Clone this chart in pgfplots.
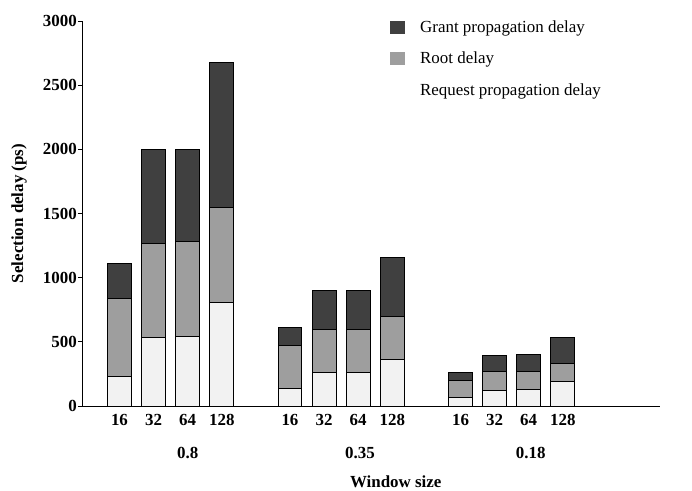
\documentclass[border=0pt]{standalone}
\usepackage{fontspec}
\setmainfont{Liberation Serif}
\usepackage{pgfplots}
\pgfplotsset{compat=1.18}
\usepackage{pgfplotstable}

\pgfplotstableread{
x req root grant
0 230 610 270
1 530 740 730
2 540 740 720
3 810 740 1130
5 140 330 140
6 260 340 300
7 260 340 300
8 360 340 460
10 70 130 60
11 120 150 120
12 130 140 130
13 190 140 200
}\datatable

\newcommand{\bigfont}{\fontsize{17}{20}\selectfont}
\pgfplotsset{
  sqlegend/.style={legend image code/.code={\path[##1, draw=none] (0bp,-6.5bp) rectangle (15bp,6.5bp);
      \path[draw=none, fill=none] (0bp,0bp) -- (28bp,0bp);}},
  nolegendimg/.style={legend image code/.code={\path[draw=none, fill=none] (0bp,-6.5bp) rectangle (28bp,6.5bp);}},
}

\begin{document}
\begin{tikzpicture}
\begin{axis}[name=ax, at={(0,0)}, anchor=south west,
  scale only axis, width=577bp, height=385bp,
  ybar stacked, bar width=0.7,
  xmin=-1.07, xmax=15.85, ymin=0, ymax=3000,
  enlarge x limits=false, enlarge y limits=false,
  axis x line=bottom, axis y line=left,
  axis line style={-, line width=1bp},
  xtick={0,1,2,3,5,6,7,8,10,11,12,13},
  xticklabels={16,32,64,128,16,32,64,128,16,32,64,128},
  ytick={0,500,1000,1500,2000,2500,3000},
  x tick style={draw=none},
  y tick style={line width=1bp, black},
  tick align=outside, major tick length=5bp,
  font=\bigfont,
  ticklabel style={font=\bigfont\bfseries},
  yticklabel style={inner xsep=1bp},
  /pgf/number format/assume math mode=true,
  /pgf/number format/1000 sep={},
  clip=false,
  xlabel={Window size},
  xlabel style={at={(axis description cs:0.542,0)}, anchor=center, yshift=-76bp, font=\bigfont\bfseries},
  ylabel={Selection delay (ps)},
  ylabel style={at={(axis description cs:-0.111,0.5)}, anchor=center, font=\bigfont\bfseries},
  legend style={at={(axis description cs:0.532,1.006)}, anchor=north west, draw=none, fill=none,
    inner sep=0pt, row sep=14bp, cells={anchor=west}, font=\bigfont},
  reverse legend,
]
\addplot[fill=black!5, draw=black, line width=1bp, nolegendimg]
  table[x=x, y=req] {\datatable};
\addplot[fill=black!38, draw=black, line width=1bp, sqlegend]
  table[x=x, y=root] {\datatable};
\addplot[fill=black!75, draw=black, line width=1bp, sqlegend]
  table[x=x, y=grant] {\datatable};
\legend{Request propagation delay, Root delay, Grant propagation delay}
\node[font=\bigfont\bfseries] at (axis cs:2,0) [yshift=-47bp] {0.8};
\node[font=\bigfont\bfseries] at (axis cs:7.05,0) [yshift=-47bp] {0.35};
\node[font=\bigfont\bfseries] at (axis cs:12.06,0) [yshift=-47bp] {0.18};
\end{axis}
\pgfresetboundingbox
\useasboundingbox (ax.south west) ++(-83bp,-85bp) rectangle ++(692bp,491bp);
\end{tikzpicture}
\end{document}
